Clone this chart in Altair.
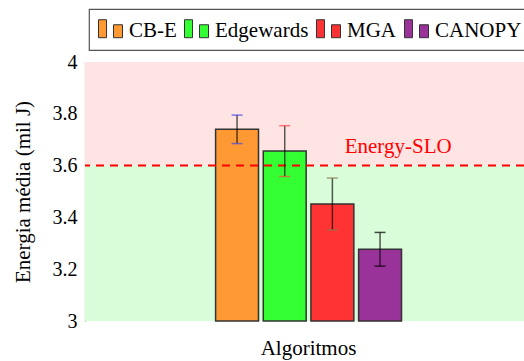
import altair as alt
import pandas as pd

# ---- data ----
algoritmos = ["CB-E", "Edgewards", "MGA", "CANOPY"]
energia = [3.740, 3.656, 3.452, 3.277]
erro = [0.055, 0.098, 0.100, 0.065]
cores = ["#FF9933", "#33FF33", "#FF3333", "#993399"]
cores_erro = ["#4646E6", "#FF4646", "#8A7A4A", "#000000"]
slo = 3.6
y_ticks = [3.0, 3.2, 3.4, 3.6, 3.8, 4.0]

W, H = 439, 259
FONT = "Liberation Serif"

df = pd.DataFrame({
    "alg": algoritmos,
    "energia": energia,
    "erro": erro,
    "pos": list(range(len(algoritmos))),
    "cap": cores_erro,
})
df["base"] = y_ticks[0]
df["lo"] = df["energia"] - df["erro"]
df["hi"] = df["energia"] + df["erro"]
df["x0"] = df["pos"] - 0.45
df["x1"] = df["pos"] + 0.45
df["c0"] = df["pos"] - 0.115
df["c1"] = df["pos"] + 0.115

zones = pd.DataFrame({"y0": [y_ticks[0], slo], "y1": [slo, y_ticks[-1]],
                      "cor": ["#D9FCD9", "#FFE4E4"]})

xscale = alt.Scale(domain=[-3.19, 6.02], nice=False, zero=False)
yscale = alt.Scale(domain=[y_ticks[0], y_ticks[-1]], nice=False, zero=False)

x_axis = alt.Axis(title="Algoritmos", labels=False, ticks=False, domain=False, grid=False,
                  titleX=223, titleY=33, titleBaseline="alphabetic")
y_axis = alt.Axis(title="Energia média (mil J)", values=y_ticks, format="~g", ticks=False,
                  grid=False, domainColor="#888888", domainWidth=1.2, labelPadding=8,
                  titleX=-56, titleY=129.5, titleBaseline="alphabetic", titleAngle=270)

bg = alt.Chart(zones).mark_rect().encode(
    x=alt.value(0), x2=alt.value(W),
    y=alt.Y("y0:Q", scale=yscale, axis=y_axis), y2="y1:Q",
    fill=alt.Fill("cor:N", scale=None),
)

sym = "M-1,-0.92H-0.33V0.58H-1Z M0.25,-0.5H1V0.58H0.25Z"

bars = alt.Chart(df).mark_bar(stroke="#333333", strokeWidth=1.5).encode(
    x=alt.X("x0:Q", scale=xscale, axis=x_axis), x2="x1:Q",
    y=alt.Y("energia:Q", scale=yscale), y2="base:Q",
    fill=alt.Fill("alg:N", scale=alt.Scale(domain=algoritmos, range=cores),
                  sort=algoritmos,
                  legend=alt.Legend(title=None, orient="none", legendX=4, legendY=-53,
                                    direction="horizontal", columns=4)),
)

slo_line = alt.Chart(pd.DataFrame({"y": [slo]})).mark_rule(
    color="#FF0000", strokeWidth=2, strokeDash=[8, 6]).encode(y=alt.Y("y:Q", scale=yscale))

slo_text = alt.Chart(pd.DataFrame({"y": [slo], "x": [3.38], "t": ["Energy-SLO"]})).mark_text(
    font=FONT, fontSize=21, color="#FF0000", baseline="alphabetic", align="center", dy=-13
).encode(x=alt.X("x:Q", scale=xscale), y=alt.Y("y:Q", scale=yscale), text="t:N")

err = alt.Chart(df).mark_rule(color="#000000", opacity=0.65, strokeWidth=1.5).encode(
    x=alt.X("pos:Q", scale=xscale), y=alt.Y("lo:Q", scale=yscale), y2="hi:Q")

caps_hi = alt.Chart(df).mark_rule(opacity=0.7, strokeWidth=1.5).encode(
    x=alt.X("c0:Q", scale=xscale), x2="c1:Q", y=alt.Y("hi:Q", scale=yscale),
    color=alt.Color("cap:N", scale=None))
caps_lo = alt.Chart(df).mark_rule(opacity=0.7, strokeWidth=1.5).encode(
    x=alt.X("c0:Q", scale=xscale), x2="c1:Q", y=alt.Y("lo:Q", scale=yscale),
    color=alt.Color("cap:N", scale=None))

chart = alt.layer(bg, bars, slo_line, slo_text, err, caps_hi, caps_lo).properties(
    width=W, height=H,
    autosize=alt.AutoSizeParams(type="none"),
    padding={"left": 85, "top": 62, "right": 0, "bottom": 40},
).configure_view(stroke=None).configure_axis(
    labelFont=FONT, labelFontSize=20, labelColor="black",
    titleFont=FONT, titleFontSize=21, titleFontWeight="normal", titleColor="black",
).configure_legend(
    symbolType=sym, symbolSize=576, symbolStrokeColor="#333333", symbolStrokeWidth=1,
    labelFont=FONT, labelFontSize=21, labelColor="black", labelOffset=6,
    columnPadding=5, padding=9, strokeColor="#555555", strokeWidth=1.2, fillColor="white",
    cornerRadius=0,
)

chart.save("out.html", embed_options={"renderer": "svg", "actions": False})
